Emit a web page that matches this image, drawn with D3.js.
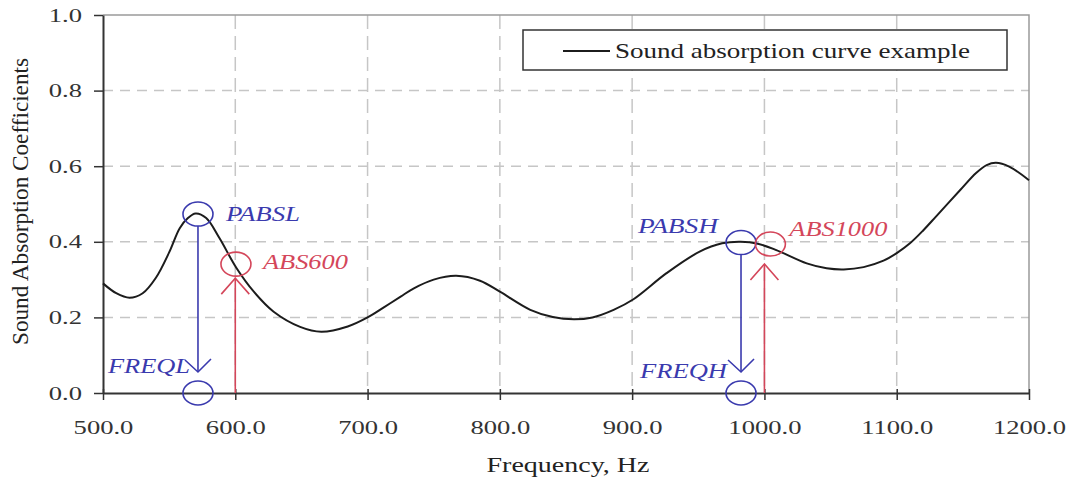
<!DOCTYPE html>
<html>
<head>
<meta charset="utf-8">
<script src="https://cdn.jsdelivr.net/npm/d3@7"></script>
<style>
  body { margin: 0; background: #fff; }
  svg { display: block; font-family: "Liberation Serif", "Times New Roman", serif; }
</style>
</head>
<body>
<svg id="chart" width="1077" height="483"></svg>
<script>
// curve
const freq = [500, 510, 520, 530, 540, 550, 558, 564, 570, 578, 588, 601, 614, 629, 649, 665, 685, 700, 712, 725, 735, 750, 767, 785, 800, 823, 840, 856, 870, 886, 901, 926, 951, 968, 982, 995, 1009, 1032, 1047, 1060, 1075, 1090, 1100, 1110, 1120, 1130, 1148, 1160, 1168, 1175, 1185, 1200];
const absorb = [0.290, 0.264, 0.252, 0.264, 0.305, 0.372, 0.436, 0.462, 0.475, 0.463, 0.41, 0.33, 0.268, 0.215, 0.175, 0.162, 0.176, 0.200, 0.226, 0.255, 0.277, 0.300, 0.310, 0.297, 0.268, 0.22, 0.201, 0.195, 0.200, 0.220, 0.248, 0.317, 0.374, 0.396, 0.400, 0.395, 0.378, 0.343, 0.330, 0.327, 0.333, 0.350, 0.370, 0.396, 0.43, 0.468, 0.537, 0.582, 0.603, 0.609, 0.599, 0.563];

const xTicks = [500, 600, 700, 800, 900, 1000, 1100, 1200];
const yTicks = [0, 0.2, 0.4, 0.6, 0.8, 1.0];

// blue: peaks projected down to the frequency axis
const peakLabels = ["PABSL", "PABSH"];
const freqLabels = ["FREQL", "FREQH"];
const peakFreq = [571.8, 982.3];
const peakAbs = [0.4735, 0.398];

// red: absorption read at 600 / 1000 Hz
const readLabels = ["ABS600", "ABS1000"];
const readFreq = [600, 1000];
const readCircleFreq = [600.5, 1004.5];
const readAbs = [0.341, 0.394];

const legendLabel = "Sound absorption curve example";
const xTitle = "Frequency, Hz";
const yTitle = "Sound Absorption Coefficients";

const blue = "#3a3aae", red = "#d4465a";

const svg = d3.select("#chart");
const pLeft = 103, pRight = 1029, pTop = 15, pBottom = 393;

const x = d3.scaleLinear().domain([500, 1200]).range([pLeft, pRight]);
const y = d3.scaleLinear().domain([0, 1]).range([pBottom, pTop]);

// grid
svg.append("g")
  .selectAll("line")
  .data(yTicks.filter((d) => d > 0 && d < 1))
  .join("line")
  .attr("x1", pLeft).attr("x2", pRight)
  .attr("y1", (d) => y(d)).attr("y2", (d) => y(d))
  .attr("stroke", "#c6c6c6").attr("stroke-width", 1.5)
  .attr("stroke-dasharray", "10,7");

svg.append("g")
  .selectAll("line")
  .data(xTicks.filter((d) => d > 500 && d < 1200))
  .join("line")
  .attr("x1", (d) => x(d)).attr("x2", (d) => x(d))
  .attr("y1", pTop).attr("y2", pBottom)
  .attr("stroke", "#c6c6c6").attr("stroke-width", 1.5)
  .attr("stroke-dasharray", "14,7");

// frame top/right
svg.append("path")
  .attr("d", `M${pLeft},${pTop}H${pRight}V${pBottom}`)
  .attr("fill", "none").attr("stroke", "#9a9a9a").attr("stroke-width", 1.5);

// axes
const yAxis = svg.append("g")
  .attr("transform", `translate(${pLeft},0)`)
  .call(d3.axisLeft(y).tickValues(yTicks).tickSize(9).tickSizeOuter(0).tickFormat(d3.format(".1f")));

const xAxis = svg.append("g")
  .attr("transform", `translate(0,${pBottom})`)
  .call(d3.axisBottom(x).tickValues(xTicks).tickSize(7).tickSizeOuter(0).tickFormat(d3.format(".1f")));

[yAxis, xAxis].forEach((a) => {
  a.select(".domain").attr("stroke", "#333").attr("stroke-width", 2);
  a.selectAll(".tick line").attr("stroke", "#333").attr("stroke-width", 1.5);
  a.selectAll(".tick text")
    .attr("fill", "#333")
    .style("font-size", "19px")
    .style("font-family", "Liberation Serif, serif");
});
xAxis.selectAll(".tick line").attr("y1", -4);
yAxis.selectAll(".tick text").attr("x", -15).attr("transform", "scale(1.4,1)");
xAxis.selectAll(".tick text").attr("y", 28).attr("transform", "scale(1.4,1)");

// titles
svg.append("text")
  .attr("transform", "translate(28,201.5) rotate(-90)")
  .attr("text-anchor", "middle")
  .attr("textLength", 287)
  .attr("lengthAdjust", "spacingAndGlyphs")
  .style("font-size", "23px")
  .attr("fill", "#222")
  .text(yTitle);

svg.append("text")
  .attr("x", 568).attr("y", 472)
  .attr("text-anchor", "middle")
  .attr("textLength", 163)
  .attr("lengthAdjust", "spacingAndGlyphs")
  .style("font-size", "20px")
  .attr("fill", "#222")
  .text(xTitle);

// curve
const line = d3.line()
  .curve(d3.curveCatmullRom)
  .x((d, i) => x(freq[i]))
  .y((d) => y(d));

svg.append("path")
  .datum(absorb)
  .attr("fill", "none")
  .attr("stroke", "#1c1c1c")
  .attr("stroke-width", 2)
  .attr("d", line);

// annotations
const rx = 15, ry = 12;
const ann = svg.append("g").attr("fill", "none").attr("stroke-width", 1.6);

const labelStyle = (sel, color, size) =>
  sel.attr("fill", color)
    .style("font-style", "italic")
    .style("font-size", size + "px");

peakLabels.forEach((lab, i) => {
  const cx = x(peakFreq[i]), cy = y(peakAbs[i]);
  const tip = pBottom - 21;
  ann.append("ellipse").attr("cx", cx).attr("cy", cy).attr("rx", rx).attr("ry", ry).attr("stroke", blue);
  ann.append("ellipse").attr("cx", cx).attr("cy", y(0)).attr("rx", rx).attr("ry", ry).attr("stroke", blue);
  ann.append("line").attr("x1", cx).attr("x2", cx).attr("y1", cy + ry).attr("y2", tip).attr("stroke", blue);
  ann.append("path")
    .attr("d", `M${cx - 13},${tip - 12}L${cx},${tip}L${cx + 13},${tip - 13}`)
    .attr("stroke", blue);
});

readLabels.forEach((lab, i) => {
  const lx = x(readFreq[i]);
  const cx = x(readCircleFreq[i]), cy = y(readAbs[i]);
  const tip = cy + ry + (i === 0 ? 2 : 8);
  ann.append("ellipse").attr("cx", cx).attr("cy", cy).attr("rx", rx).attr("ry", ry).attr("stroke", red);
  ann.append("line").attr("x1", lx).attr("x2", lx).attr("y1", pBottom).attr("y2", tip).attr("stroke", red);
  ann.append("path")
    .attr("d", `M${lx - 14},${tip + 16}L${lx},${tip}L${lx + 14},${tip + 16}`)
    .attr("stroke", red);
});

// annotation text
const peakText = [{ dx: 28, dy: 7, anchor: "start", len: 74 }, { dx: -23, dy: -9.5, anchor: "end", len: 80 }];
const freqText = [{ dx: -8, base: pBottom - 20, len: 82 }, { dx: -14, base: pBottom - 15, len: 87 }];
const readText = [{ dx: 27, dy: 4.5, len: 85 }, { dx: 19, dy: -8, len: 98 }];

peakLabels.forEach((lab, i) => {
  const cx = x(peakFreq[i]), cy = y(peakAbs[i]);
  svg.append("text")
    .attr("x", cx + peakText[i].dx).attr("y", cy + peakText[i].dy)
    .attr("text-anchor", peakText[i].anchor)
    .attr("textLength", peakText[i].len).attr("lengthAdjust", "spacingAndGlyphs")
    .call(labelStyle, blue, 20)
    .text(lab);
  svg.append("text")
    .attr("x", cx + freqText[i].dx).attr("y", freqText[i].base)
    .attr("text-anchor", "end")
    .attr("textLength", freqText[i].len).attr("lengthAdjust", "spacingAndGlyphs")
    .call(labelStyle, blue, 20)
    .text(freqLabels[i]);
});

readLabels.forEach((lab, i) => {
  const cx = x(readCircleFreq[i]), cy = y(readAbs[i]);
  svg.append("text")
    .attr("x", cx + readText[i].dx).attr("y", cy + readText[i].dy)
    .attr("textLength", readText[i].len).attr("lengthAdjust", "spacingAndGlyphs")
    .call(labelStyle, red, 20)
    .text(lab);
});

// legend
const lg = svg.append("g");
lg.append("rect")
  .attr("x", 523).attr("y", 30).attr("width", 484).attr("height", 40)
  .attr("fill", "#fff").attr("stroke", "#333").attr("stroke-width", 1.5);
lg.append("line")
  .attr("x1", 563).attr("x2", 610).attr("y1", 51).attr("y2", 51)
  .attr("stroke", "#1c1c1c").attr("stroke-width", 2);
lg.append("text")
  .attr("x", 615).attr("y", 58)
  .attr("textLength", 355).attr("lengthAdjust", "spacingAndGlyphs")
  .attr("fill", "#222")
  .style("font-size", "21px")
  .text(legendLabel);
</script>
</body>
</html>
